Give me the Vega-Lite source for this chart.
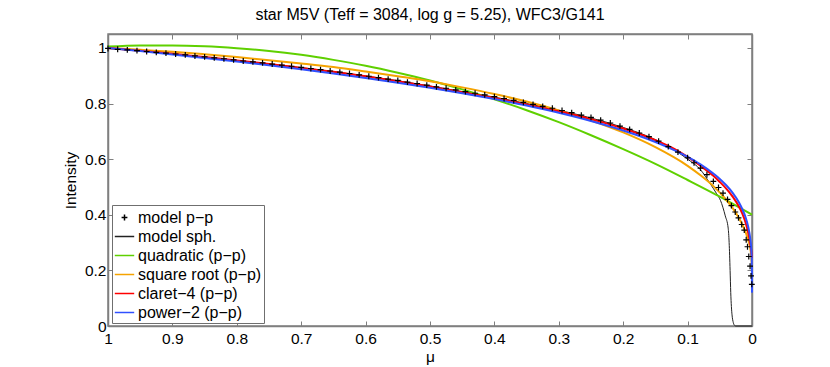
{
 "$schema": "https://vega.github.io/schema/vega-lite/v6.json",
 "width": 644, "height": 292,
 "autosize": "none",
 "padding": {"left": 108, "top": 34, "right": 78, "bottom": 41},
 "background": "white",
 "title": {"text": "star M5V (Teff = 3084, log g = 5.25), WFC3/G141", "fontSize": 16, "fontWeight": "normal", "font": "Liberation Sans", "color": "black", "offset": 11, "anchor": "middle"},
 "config": {"font": "Liberation Sans", "view": {"stroke": "#7f7f7f", "strokeWidth": 1.5}},
 "data": {"values": [
  {"series":"model sph.","mu":1,"intensity":0.998},{"series":"model sph.","mu":0.95,"intensity":0.989},{"series":"model sph.","mu":0.9,"intensity":0.979},{"series":"model sph.","mu":0.85,"intensity":0.967},{"series":"model sph.","mu":0.8,"intensity":0.955},{"series":"model sph.","mu":0.75,"intensity":0.942},{"series":"model sph.","mu":0.7,"intensity":0.929},{"series":"model sph.","mu":0.65,"intensity":0.915},{"series":"model sph.","mu":0.6,"intensity":0.899},{"series":"model sph.","mu":0.55,"intensity":0.882},{"series":"model sph.","mu":0.5,"intensity":0.863},{"series":"model sph.","mu":0.45,"intensity":0.843},{"series":"model sph.","mu":0.4,"intensity":0.823},{"series":"model sph.","mu":0.35,"intensity":0.8},{"series":"model sph.","mu":0.3,"intensity":0.776},{"series":"model sph.","mu":0.25,"intensity":0.748},{"series":"model sph.","mu":0.2,"intensity":0.714},{"series":"model sph.","mu":0.15,"intensity":0.67},{"series":"model sph.","mu":0.1,"intensity":0.6},{"series":"model sph.","mu":0.08,"intensity":0.562},{"series":"model sph.","mu":0.065,"intensity":0.512},{"series":"model sph.","mu":0.055,"intensity":0.476},{"series":"model sph.","mu":0.049,"intensity":0.452},{"series":"model sph.","mu":0.0415,"intensity":0.396},{"series":"model sph.","mu":0.037,"intensity":0.352},{"series":"model sph.","mu":0.0355,"intensity":0.3},{"series":"model sph.","mu":0.034,"intensity":0.2},{"series":"model sph.","mu":0.033,"intensity":0.12},{"series":"model sph.","mu":0.032,"intensity":0.07},{"series":"model sph.","mu":0.031,"intensity":0.04},{"series":"model sph.","mu":0.029,"intensity":0.012},{"series":"model sph.","mu":0.027,"intensity":0.002},{"series":"model sph.","mu":0.025,"intensity":0},{"series":"model sph.","mu":0,"intensity":0},
  {"series":"quadratic (p−p)","mu":1,"intensity":1.005},{"series":"quadratic (p−p)","mu":0.95,"intensity":1.009},{"series":"quadratic (p−p)","mu":0.9,"intensity":1.009},{"series":"quadratic (p−p)","mu":0.85,"intensity":1.006},{"series":"quadratic (p−p)","mu":0.8,"intensity":0.999},{"series":"quadratic (p−p)","mu":0.75,"intensity":0.989},{"series":"quadratic (p−p)","mu":0.7,"intensity":0.975},{"series":"quadratic (p−p)","mu":0.65,"intensity":0.957},{"series":"quadratic (p−p)","mu":0.6,"intensity":0.936},{"series":"quadratic (p−p)","mu":0.55,"intensity":0.911},{"series":"quadratic (p−p)","mu":0.5,"intensity":0.883},{"series":"quadratic (p−p)","mu":0.45,"intensity":0.851},{"series":"quadratic (p−p)","mu":0.4,"intensity":0.815},{"series":"quadratic (p−p)","mu":0.35,"intensity":0.776},{"series":"quadratic (p−p)","mu":0.3,"intensity":0.733},{"series":"quadratic (p−p)","mu":0.25,"intensity":0.686},{"series":"quadratic (p−p)","mu":0.2,"intensity":0.636},{"series":"quadratic (p−p)","mu":0.15,"intensity":0.583},{"series":"quadratic (p−p)","mu":0.1,"intensity":0.525},{"series":"quadratic (p−p)","mu":0.05,"intensity":0.465},{"series":"quadratic (p−p)","mu":0,"intensity":0.4},
  {"series":"square root (p−p)","mu":1,"intensity":1.0},{"series":"square root (p−p)","mu":0.95,"intensity":0.993},{"series":"square root (p−p)","mu":0.9,"intensity":0.986},{"series":"square root (p−p)","mu":0.85,"intensity":0.977},{"series":"square root (p−p)","mu":0.8,"intensity":0.967},{"series":"square root (p−p)","mu":0.75,"intensity":0.956},{"series":"square root (p−p)","mu":0.7,"intensity":0.944},{"series":"square root (p−p)","mu":0.65,"intensity":0.931},{"series":"square root (p−p)","mu":0.6,"intensity":0.915},{"series":"square root (p−p)","mu":0.55,"intensity":0.898},{"series":"square root (p−p)","mu":0.5,"intensity":0.88},{"series":"square root (p−p)","mu":0.45,"intensity":0.858},{"series":"square root (p−p)","mu":0.4,"intensity":0.834},{"series":"square root (p−p)","mu":0.35,"intensity":0.807},{"series":"square root (p−p)","mu":0.3,"intensity":0.775},{"series":"square root (p−p)","mu":0.25,"intensity":0.739},{"series":"square root (p−p)","mu":0.2,"intensity":0.696},{"series":"square root (p−p)","mu":0.15,"intensity":0.643},{"series":"square root (p−p)","mu":0.1,"intensity":0.576},{"series":"square root (p−p)","mu":0.08,"intensity":0.542},{"series":"square root (p−p)","mu":0.06,"intensity":0.503},{"series":"square root (p−p)","mu":0.04,"intensity":0.454},{"series":"square root (p−p)","mu":0.03,"intensity":0.424},{"series":"square root (p−p)","mu":0.02,"intensity":0.387},{"series":"square root (p−p)","mu":0.01,"intensity":0.338},{"series":"square root (p−p)","mu":0.005,"intensity":0.302},{"series":"square root (p−p)","mu":0.002,"intensity":0.269},{"series":"square root (p−p)","mu":0,"intensity":0.211},
  {"series":"claret−4 (p−p)","mu":1,"intensity":1.0},{"series":"claret−4 (p−p)","mu":0.95,"intensity":0.99},{"series":"claret−4 (p−p)","mu":0.9,"intensity":0.979},{"series":"claret−4 (p−p)","mu":0.85,"intensity":0.967},{"series":"claret−4 (p−p)","mu":0.8,"intensity":0.955},{"series":"claret−4 (p−p)","mu":0.75,"intensity":0.942},{"series":"claret−4 (p−p)","mu":0.7,"intensity":0.928},{"series":"claret−4 (p−p)","mu":0.65,"intensity":0.914},{"series":"claret−4 (p−p)","mu":0.6,"intensity":0.898},{"series":"claret−4 (p−p)","mu":0.55,"intensity":0.88},{"series":"claret−4 (p−p)","mu":0.5,"intensity":0.861},{"series":"claret−4 (p−p)","mu":0.45,"intensity":0.841},{"series":"claret−4 (p−p)","mu":0.4,"intensity":0.82},{"series":"claret−4 (p−p)","mu":0.35,"intensity":0.797},{"series":"claret−4 (p−p)","mu":0.3,"intensity":0.772},{"series":"claret−4 (p−p)","mu":0.25,"intensity":0.744},{"series":"claret−4 (p−p)","mu":0.2,"intensity":0.71},{"series":"claret−4 (p−p)","mu":0.15,"intensity":0.668},{"series":"claret−4 (p−p)","mu":0.12,"intensity":0.636},{"series":"claret−4 (p−p)","mu":0.1,"intensity":0.608},{"series":"claret−4 (p−p)","mu":0.08,"intensity":0.576},{"series":"claret−4 (p−p)","mu":0.06,"intensity":0.54},{"series":"claret−4 (p−p)","mu":0.05,"intensity":0.518},{"series":"claret−4 (p−p)","mu":0.04,"intensity":0.494},{"series":"claret−4 (p−p)","mu":0.03,"intensity":0.465},{"series":"claret−4 (p−p)","mu":0.02,"intensity":0.428},{"series":"claret−4 (p−p)","mu":0.015,"intensity":0.404},{"series":"claret−4 (p−p)","mu":0.01,"intensity":0.372},{"series":"claret−4 (p−p)","mu":0.006,"intensity":0.336},{"series":"claret−4 (p−p)","mu":0.003,"intensity":0.3},{"series":"claret−4 (p−p)","mu":0.001,"intensity":0.27},{"series":"claret−4 (p−p)","mu":0,"intensity":0.245},
  {"series":"power−2 (p−p)","mu":1,"intensity":1.0},{"series":"power−2 (p−p)","mu":0.95,"intensity":0.9885},{"series":"power−2 (p−p)","mu":0.9,"intensity":0.9766},{"series":"power−2 (p−p)","mu":0.85,"intensity":0.9641},{"series":"power−2 (p−p)","mu":0.8,"intensity":0.9512},{"series":"power−2 (p−p)","mu":0.75,"intensity":0.9375},{"series":"power−2 (p−p)","mu":0.7,"intensity":0.9232},{"series":"power−2 (p−p)","mu":0.65,"intensity":0.9081},{"series":"power−2 (p−p)","mu":0.6,"intensity":0.8921},{"series":"power−2 (p−p)","mu":0.55,"intensity":0.8751},{"series":"power−2 (p−p)","mu":0.5,"intensity":0.857},{"series":"power−2 (p−p)","mu":0.45,"intensity":0.8373},{"series":"power−2 (p−p)","mu":0.4,"intensity":0.816},{"series":"power−2 (p−p)","mu":0.35,"intensity":0.7926},{"series":"power−2 (p−p)","mu":0.3,"intensity":0.7666},{"series":"power−2 (p−p)","mu":0.25,"intensity":0.7371},{"series":"power−2 (p−p)","mu":0.2,"intensity":0.7028},{"series":"power−2 (p−p)","mu":0.15,"intensity":0.6615},{"series":"power−2 (p−p)","mu":0.12,"intensity":0.6314},{"series":"power−2 (p−p)","mu":0.1,"intensity":0.608},{"series":"power−2 (p−p)","mu":0.08,"intensity":0.581},{"series":"power−2 (p−p)","mu":0.06,"intensity":0.548},{"series":"power−2 (p−p)","mu":0.05,"intensity":0.529},{"series":"power−2 (p−p)","mu":0.04,"intensity":0.506},{"series":"power−2 (p−p)","mu":0.03,"intensity":0.4786},{"series":"power−2 (p−p)","mu":0.02,"intensity":0.4432},{"series":"power−2 (p−p)","mu":0.015,"intensity":0.42},{"series":"power−2 (p−p)","mu":0.01,"intensity":0.391},{"series":"power−2 (p−p)","mu":0.006,"intensity":0.3575},{"series":"power−2 (p−p)","mu":0.003,"intensity":0.3189},{"series":"power−2 (p−p)","mu":0.001,"intensity":0.27},{"series":"power−2 (p−p)","mu":0.0003,"intensity":0.2304},{"series":"power−2 (p−p)","mu":0,"intensity":0.12},
  {"series":"model p−p","mu":1,"intensity":0.998},{"series":"model p−p","mu":0.985,"intensity":0.995},{"series":"model p−p","mu":0.97,"intensity":0.993},{"series":"model p−p","mu":0.955,"intensity":0.99},{"series":"model p−p","mu":0.94,"intensity":0.987},{"series":"model p−p","mu":0.925,"intensity":0.984},{"series":"model p−p","mu":0.91,"intensity":0.981},{"series":"model p−p","mu":0.895,"intensity":0.978},{"series":"model p−p","mu":0.88,"intensity":0.975},{"series":"model p−p","mu":0.865,"intensity":0.971},{"series":"model p−p","mu":0.85,"intensity":0.968},{"series":"model p−p","mu":0.835,"intensity":0.964},{"series":"model p−p","mu":0.82,"intensity":0.961},{"series":"model p−p","mu":0.805,"intensity":0.957},{"series":"model p−p","mu":0.79,"intensity":0.953},{"series":"model p−p","mu":0.775,"intensity":0.95},{"series":"model p−p","mu":0.76,"intensity":0.946},{"series":"model p−p","mu":0.745,"intensity":0.942},{"series":"model p−p","mu":0.73,"intensity":0.938},{"series":"model p−p","mu":0.715,"intensity":0.934},{"series":"model p−p","mu":0.7,"intensity":0.93},{"series":"model p−p","mu":0.685,"intensity":0.926},{"series":"model p−p","mu":0.67,"intensity":0.922},{"series":"model p−p","mu":0.655,"intensity":0.917},{"series":"model p−p","mu":0.64,"intensity":0.913},{"series":"model p−p","mu":0.625,"intensity":0.908},{"series":"model p−p","mu":0.61,"intensity":0.903},{"series":"model p−p","mu":0.595,"intensity":0.898},{"series":"model p−p","mu":0.58,"intensity":0.893},{"series":"model p−p","mu":0.565,"intensity":0.888},{"series":"model p−p","mu":0.55,"intensity":0.883},{"series":"model p−p","mu":0.535,"intensity":0.877},{"series":"model p−p","mu":0.52,"intensity":0.872},{"series":"model p−p","mu":0.505,"intensity":0.866},{"series":"model p−p","mu":0.49,"intensity":0.86},{"series":"model p−p","mu":0.475,"intensity":0.855},{"series":"model p−p","mu":0.46,"intensity":0.849},{"series":"model p−p","mu":0.445,"intensity":0.843},{"series":"model p−p","mu":0.43,"intensity":0.837},{"series":"model p−p","mu":0.415,"intensity":0.831},{"series":"model p−p","mu":0.4,"intensity":0.825},{"series":"model p−p","mu":0.385,"intensity":0.818},{"series":"model p−p","mu":0.37,"intensity":0.811},{"series":"model p−p","mu":0.355,"intensity":0.804},{"series":"model p−p","mu":0.34,"intensity":0.797},{"series":"model p−p","mu":0.325,"intensity":0.79},{"series":"model p−p","mu":0.31,"intensity":0.783},{"series":"model p−p","mu":0.295,"intensity":0.775},{"series":"model p−p","mu":0.28,"intensity":0.767},{"series":"model p−p","mu":0.265,"intensity":0.758},{"series":"model p−p","mu":0.25,"intensity":0.75},{"series":"model p−p","mu":0.235,"intensity":0.74},{"series":"model p−p","mu":0.22,"intensity":0.73},{"series":"model p−p","mu":0.205,"intensity":0.719},{"series":"model p−p","mu":0.19,"intensity":0.707},{"series":"model p−p","mu":0.175,"intensity":0.694},{"series":"model p−p","mu":0.16,"intensity":0.681},{"series":"model p−p","mu":0.145,"intensity":0.665},{"series":"model p−p","mu":0.13,"intensity":0.645},{"series":"model p−p","mu":0.115,"intensity":0.625},{"series":"model p−p","mu":0.1,"intensity":0.605},{"series":"model p−p","mu":0.09,"intensity":0.587},{"series":"model p−p","mu":0.08,"intensity":0.568},{"series":"model p−p","mu":0.07,"intensity":0.544},{"series":"model p−p","mu":0.06,"intensity":0.52},{"series":"model p−p","mu":0.052,"intensity":0.498},{"series":"model p−p","mu":0.045,"intensity":0.478},{"series":"model p−p","mu":0.038,"intensity":0.455},{"series":"model p−p","mu":0.032,"intensity":0.433},{"series":"model p−p","mu":0.026,"intensity":0.41},{"series":"model p−p","mu":0.021,"intensity":0.389},{"series":"model p−p","mu":0.016,"intensity":0.365},{"series":"model p−p","mu":0.012,"intensity":0.345},{"series":"model p−p","mu":0.009,"intensity":0.31},{"series":"model p−p","mu":0.007,"intensity":0.285},{"series":"model p−p","mu":0.005,"intensity":0.25},{"series":"model p−p","mu":0.003,"intensity":0.215},{"series":"model p−p","mu":0.0015,"intensity":0.18},{"series":"model p−p","mu":0.0003,"intensity":0.15}
 ]},
 "encoding": {
  "color": {"field": "series", "type": "nominal",
   "scale": {"domain": ["model p−p","model sph.","quadratic (p−p)","square root (p−p)","claret−4 (p−p)","power−2 (p−p)"], "range": ["#000000","#222222","#5fd000","#f5a300","#ff0000","#3050ff"]},
   "legend": {"orient": "bottom-left", "title": null, "offset": 3.5, "padding": 2, "strokeColor": "#6f6f6f", "fillColor": "#ffffff", "labelFontSize": 16, "labelFont": "Liberation Sans", "labelColor": "#000000", "symbolSize": 376, "symbolStrokeWidth": 1.5, "symbolFillColor": "transparent", "rowPadding": 0, "labelLimit": 0, "labelOffset": 3}}
 },
 "layer": [
  {"transform": [{"filter": "datum.series === 'model sph.'"}],
   "mark": {"type": "line", "strokeWidth": 1, "interpolate": "monotone"},
   "encoding": {
    "x": {"field": "mu", "type": "quantitative", "scale": {"domain": [0, 1], "reverse": true, "nice": false},
     "axis": {"orient": "bottom", "values": [0,0.1,0.2,0.3,0.4,0.5,0.6,0.7,0.8,0.9,1], "labelExpr": "format(datum.value, '~g')", "title": "μ", "titleFontWeight": "normal", "titleFontSize": 15.5, "titleColor": "#000000", "titlePadding": 3, "labelFontSize": 15.5, "labelColor": "#000000", "labelFlush": false, "labelOverlap": false, "tickSize": -5, "labelPadding": 10, "domainColor": "#7f7f7f", "domainWidth": 1.5, "tickColor": "#7f7f7f", "grid": false}},
    "y": {"field": "intensity", "type": "quantitative", "scale": {"domain": [0, 1.05], "nice": false},
     "axis": {"orient": "left", "values": [0,0.2,0.4,0.6,0.8,1], "labelExpr": "format(datum.value, '~g')", "title": "Intensity", "titleFontWeight": "normal", "titleFontSize": 15.5, "titleColor": "#000000", "titlePadding": 6, "labelFontSize": 15.5, "labelColor": "#000000", "labelFlush": false, "labelOverlap": false, "tickSize": -5, "labelPadding": 7, "domainColor": "#7f7f7f", "domainWidth": 1.5, "tickColor": "#7f7f7f", "grid": false}}
   }},
  {"transform": [{"filter": "datum.series !== 'model sph.' && datum.series !== 'model p−p'"}],
   "mark": {"type": "line", "strokeWidth": 2, "interpolate": "monotone"},
   "encoding": {
    "x": {"field": "mu", "type": "quantitative", "scale": {"domain": [0, 1], "reverse": true, "nice": false},
     "axis": {"orient": "top", "values": [0,0.1,0.2,0.3,0.4,0.5,0.6,0.7,0.8,0.9,1], "labels": false, "title": null, "tickSize": -5, "domainColor": "#7f7f7f", "domainWidth": 1.5, "tickColor": "#7f7f7f", "grid": false}},
    "y": {"field": "intensity", "type": "quantitative", "scale": {"domain": [0, 1.05], "nice": false},
     "axis": {"orient": "right", "values": [0,0.2,0.4,0.6,0.8,1], "labels": false, "title": null, "tickSize": -5, "domainColor": "#7f7f7f", "domainWidth": 1.5, "tickColor": "#7f7f7f", "grid": false}}
   }},
  {"transform": [{"filter": "datum.series === 'model p−p'"}],
   "mark": {"type": "point", "filled": false, "strokeWidth": 1.2, "size": 380, "opacity": 1},
   "encoding": {
    "x": {"field": "mu", "type": "quantitative", "scale": {"domain": [0, 1], "reverse": true, "nice": false}, "axis": null},
    "y": {"field": "intensity", "type": "quantitative", "scale": {"domain": [0, 1.05], "nice": false}, "axis": null},
    "shape": {"field": "series", "type": "nominal",
     "scale": {"domain": ["model p−p","model sph.","quadratic (p−p)","square root (p−p)","claret−4 (p−p)","power−2 (p−p)"], "range": ["M-0.3,0H0.3M0,-0.3V0.3","stroke","stroke","stroke","stroke","stroke"]},
     "legend": {"orient": "bottom-left", "title": null, "offset": 3.5, "padding": 2, "strokeColor": "#6f6f6f", "fillColor": "#ffffff", "labelFontSize": 16, "labelFont": "Liberation Sans", "labelColor": "#000000", "symbolSize": 376, "symbolStrokeWidth": 1.5, "symbolFillColor": "transparent", "rowPadding": 0, "labelLimit": 0, "labelOffset": 3}}
   }}
 ],
 "resolve": {"axis": {"x": "independent", "y": "independent"}}
}
